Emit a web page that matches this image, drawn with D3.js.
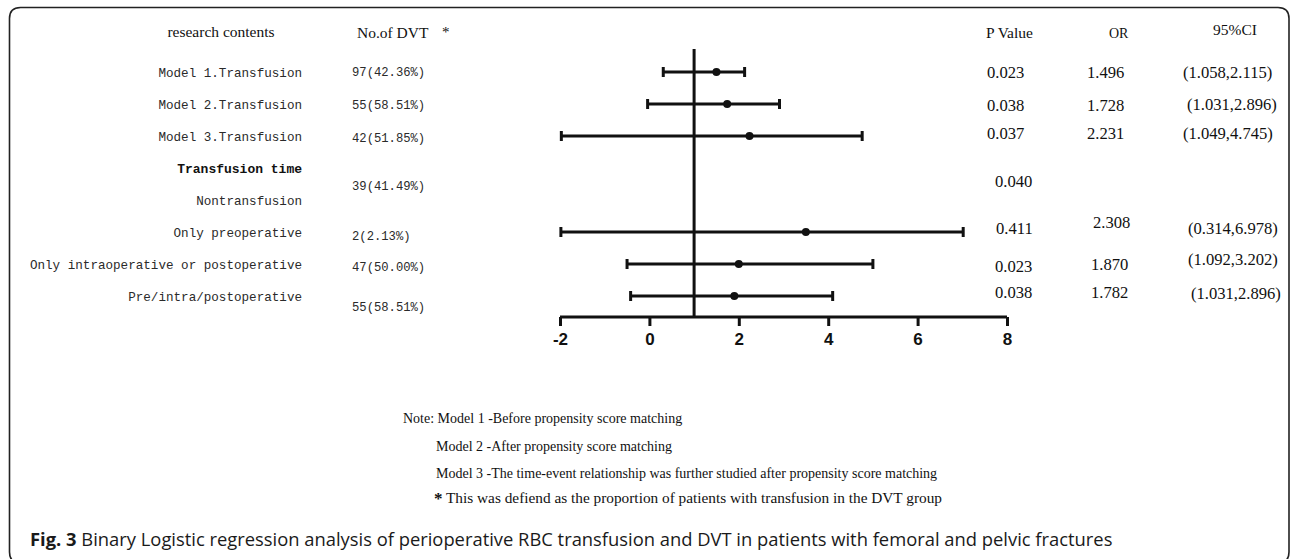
<!DOCTYPE html>
<html>
<head>
<meta charset="utf-8">
<script src="https://cdn.jsdelivr.net/npm/d3@7"></script>
<style>
	html, body {margin:0; padding:0; background:#ffffff;}
	svg {display:block;}
	.mono {font-family:"Liberation Mono", "DejaVu Sans Mono", monospace; fill:#2a2a2a;}
	.serif {font-family:"Liberation Serif", "Times New Roman", serif; fill:#111111;}
	.cap {font-family:"Open Sans", "Noto Sans", sans-serif; fill:#1a1a1a;}
</style>
</head>
<body>
<div id="chart"></div>
<script>
(function(){

	// rows of the table, top to bottom
	var rowLabels = ["Model 1.Transfusion", "Model 2.Transfusion", "Model 3.Transfusion", "Transfusion time",
		"Nontransfusion", "Only preoperative", "Only intraoperative or postoperative", "Pre/intra/postoperative"];
	var dvtCounts = ["97(42.36%)", "55(58.51%)", "42(51.85%)", "", "39(41.49%)", "2(2.13%)", "47(50.00%)", "55(58.51%)"];
	var pValues = ["0.023", "0.038", "0.037", "", "0.040", "0.411", "0.023", "0.038"];
	var orValues = ["1.496", "1.728", "2.231", "", "", "2.308", "1.870", "1.782"];
	var ciValues = ["(1.058,2.115)", "(1.031,2.896)", "(1.049,4.745)", "", "", "(0.314,6.978)", "(1.092,3.202)", "(1.031,2.896)"];

	// bars as drawn in the figure (low end, dot, high end)
	var barLow = [0.31, -0.04, -1.97, null, null, -1.98, -0.5, -0.42];
	var barDot = [1.5, 1.74, 2.24, null, null, 3.5, 2.0, 1.9];
	var barHigh = [2.13, 2.91, 4.76, null, null, 7.02, 5.0, 4.1];

	var xTicks = [-2, 0, 2, 4, 6, 8];
	var refValue = 1;

	var headers = ["research contents", "No.of  DVT", "P  Value", "OR", "95%CI"];
	var notes = ["Note: Model 1 -Before propensity score matching",
		"Model 2 -After propensity score matching",
		"Model 3 -The time-event relationship was further studied after propensity score matching"];
	var footNote = "This was defiend as the proportion of patients with transfusion in the DVT group";
	var captionBold = "Fig. 3";
	var captionText = "Binary Logistic regression analysis of perioperative RBC transfusion and DVT in patients with femoral and pelvic fractures";

	// layout: small nudges of the text columns, as they sit in the figure
	var LAY = {};
	LAY.dvtDy = [-1, 0, 1, 0, -15, 3, 2, 10];
	LAY.pDx = [0, 0, 0, 0, 8, 9, 8, 8];
	LAY.pDy = [1, 2, -2, 0, -18, -3, 3, -3];
	LAY.orDx = [0, 0, 0, 0, 0, 6, 4, 4];
	LAY.orDy = [1, 2, -2, 0, 0, -9, 1, -3];
	LAY.ciDx = [0, 4, 0, 0, 0, 5, 5, 8];
	LAY.ciDy = [1, 1, -2, 0, 0, -3, -4, -2];

	var W = 1292, H = 559;
	var INK = "#111111";

	var svg = d3.select("#chart").append("svg").attr("width", W).attr("height", H);

	// frame
	var fr = {x0:9.5, y0:7.5, x1:1289, y1:563, r:11};
	svg.append("path")
		.attr("d", "M" + fr.x0 + "," + (fr.y0 + fr.r) +
			" Q" + fr.x0 + "," + fr.y0 + " " + (fr.x0 + fr.r) + "," + fr.y0 +
			" L" + (fr.x1 - fr.r) + "," + fr.y0 +
			" Q" + fr.x1 + "," + fr.y0 + " " + fr.x1 + "," + (fr.y0 + fr.r) +
			" L" + fr.x1 + "," + (fr.y1 - fr.r) +
			" Q" + fr.x1 + "," + fr.y1 + " " + (fr.x1 - fr.r) + "," + fr.y1 +
			" L" + (fr.x0 + fr.r) + "," + fr.y1 +
			" Q" + fr.x0 + "," + fr.y1 + " " + fr.x0 + "," + (fr.y1 - fr.r) + " Z")
		.attr("fill", "none").attr("stroke", "#222222").attr("stroke-width", 1.6);

	var rows = d3.range(rowLabels.length);
	var y = d3.scalePoint().domain(rows).range([72, 296]);
	var x = d3.scaleLinear().domain([-2, 8]).range([560, 1007]);
	var axisY = 317;

	// headers
	var hx = [221, 357, 986, 1109, 1213];
	var hy = [37, 38, 38, 38, 35];
	svg.selectAll("text.hdr").data(headers).enter().append("text")
		.attr("class", "hdr serif")
		.attr("x", function(d,i){return hx[i]})
		.attr("y", function(d,i){return hy[i]})
		.attr("text-anchor", function(d,i){return i===0 ? "middle" : "start"})
		.style("font-size", function(d,i){return i===3 ? "14px" : "15.5px"})
		.text(function(d){return d});
	svg.append("text").attr("class", "serif").attr("x", 442).attr("y", 37)
		.style("font-size", "15px").text("*");

	// left labels
	svg.selectAll("text.lab").data(rowLabels).enter().append("text")
		.attr("class", "lab mono")
		.attr("x", 302)
		.attr("y", function(d,i){return y(i) + 5})
		.attr("text-anchor", "end")
		.style("font-size", function(d,i){return i===3 ? "13px" : "12.6px"})
		.style("font-weight", function(d,i){return i===3 ? "bold" : "normal"})
		.style("fill", function(d,i){return i===3 ? "#111" : null})
		.text(function(d){return d});

	// no. of DVT
	svg.selectAll("text.dvt").data(dvtCounts).enter().append("text")
		.attr("class", "dvt mono")
		.attr("x", 352)
		.attr("y", function(d,i){return y(i) + 5 + LAY.dvtDy[i]})
		.style("font-size", "12.2px")
		.text(function(d){return d});

	// right-hand columns
	var cols = [
		{vals:pValues, x:987, dx:LAY.pDx, dy:LAY.pDy},
		{vals:orValues, x:1087, dx:LAY.orDx, dy:LAY.orDy},
		{vals:ciValues, x:1183, dx:LAY.ciDx, dy:LAY.ciDy}
	];
	cols.forEach(function(c, k){
		svg.selectAll("text.col" + k).data(c.vals).enter().append("text")
			.attr("class", "col" + k + " serif")
			.attr("x", function(d,i){return c.x + c.dx[i]})
			.attr("y", function(d,i){return y(i) + 5 + c.dy[i]})
			.style("font-size", "16.6px")
			.text(function(d){return d});
	});

	// forest plot
	var plot = svg.append("g");
	plot.append("line")
		.attr("x1", x(refValue)).attr("x2", x(refValue))
		.attr("y1", 49).attr("y2", axisY)
		.attr("stroke", INK).attr("stroke-width", 3);

	var bars = rows.filter(function(i){return barDot[i] !== null});
	var g = plot.selectAll("g.bar").data(bars).enter().append("g")
		.attr("class", "bar")
		.attr("transform", function(i){return "translate(0," + y(i) + ")"});
	g.append("line")
		.attr("x1", function(i){return x(barLow[i])})
		.attr("x2", function(i){return x(barHigh[i])})
		.attr("stroke", INK).attr("stroke-width", 3);
	g.selectAll("line.cap").data(function(i){return [barLow[i], barHigh[i]]}).enter().append("line")
		.attr("class", "cap")
		.attr("x1", function(v){return x(v)}).attr("x2", function(v){return x(v)})
		.attr("y1", -5).attr("y2", 5)
		.attr("stroke", INK).attr("stroke-width", 3);
	g.append("circle")
		.attr("cx", function(i){return x(barDot[i])})
		.attr("r", 4).attr("fill", INK);

	var axis = d3.axisBottom(x).tickValues(xTicks).tickSize(9).tickPadding(7).tickFormat(d3.format("d"));
	var ax = plot.append("g").attr("transform", "translate(0," + axisY + ")").call(axis);
	ax.select(".domain").attr("d", "M" + x(-2) + ",0H" + x(8))
		.attr("stroke", INK).attr("stroke-width", 3);
	ax.selectAll(".tick line").attr("stroke", INK).attr("stroke-width", 3);
	ax.selectAll(".tick text")
		.style("font-family", "'Liberation Sans', Arial, sans-serif")
		.style("font-weight", "bold").style("font-size", "17px").attr("fill", INK)
		.text(function(d){return d < 0 ? "-" + Math.abs(d) : d});

	// notes
	var nx = [403, 436, 436];
	var ny = [423, 451, 478];
	svg.selectAll("text.note").data(notes).enter().append("text")
		.attr("class", "note serif")
		.attr("x", function(d,i){return nx[i]})
		.attr("y", function(d,i){return ny[i]})
		.style("font-size", "14px")
		.text(function(d){return d});
	svg.append("text").attr("class", "serif").attr("x", 434).attr("y", 504)
		.style("font-size", "17px").style("font-weight", "bold").text("*");
	svg.append("text").attr("class", "serif").attr("x", 446).attr("y", 503)
		.style("font-size", "14px")
		.attr("textLength", 496).attr("lengthAdjust", "spacingAndGlyphs")
		.text(footNote);

	// caption
	var cap = svg.append("text").attr("class", "cap").attr("x", 30).attr("y", 546)
		.style("font-size", "16px");
	cap.append("tspan").style("font-weight", "bold").text(captionBold);
	cap.append("tspan").text(" " + captionText);
	// fit the caption to the width it has in the figure
	var capW = cap.node().getComputedTextLength();
	cap.style("font-size", (16 * (1113 - 30) / capW).toFixed(2) + "px");

})();
</script>
</body>
</html>
